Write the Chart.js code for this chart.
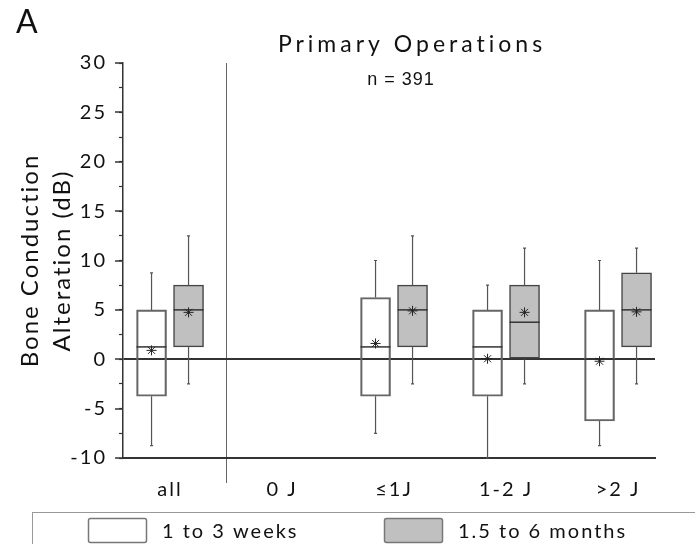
<!DOCTYPE html>
<html>
<head>
<meta charset="utf-8">
<script src="https://cdn.jsdelivr.net/npm/chart.js@4.4.0/dist/chart.umd.min.js"></script>
<style>
  html, body { margin: 0; padding: 0; background: #fff; overflow: hidden; }
  #wrap { width: 695px; height: 544px; position: relative; }
</style>
</head>
<body>
<div id="wrap"><canvas id="boneChart"></canvas></div>
<script>
const categories = ['all', '0 J', '≤1J', '1-2 J', '>2 J'];
const seriesLabels = ['1 to 3 weeks', '1.5 to 6 months'];
const yTitleLines = ['Bone Conduction', 'Alteration (dB)'];
const separatorAt = 0.5; // line between "all" and the year groups

// 1 to 3 weeks (white boxes), null = no data for "0 J"
const weeksMin = [-8.75, null, -7.5, -10, -8.75];
const weeksQ1 = [-3.75, null, -3.75, -3.75, -6.25];
const weeksMedian = [1.25, null, 1.25, 1.25, 0];
const weeksQ3 = [5, null, 6.25, 5, 5];
const weeksMax = [8.75, null, 10, 7.5, 10];
const weeksMean = [0.9, null, 1.6, 0.05, -0.2];

// 1.5 to 6 months (grey boxes)
const monthsMin = [-2.5, null, -2.5, -2.5, -2.5];
const monthsQ1 = [1.25, null, 1.25, 0, 1.25];
const monthsMedian = [5, null, 5, 3.75, 5];
const monthsQ3 = [7.5, null, 7.5, 7.5, 8.75];
const monthsMax = [12.5, null, 12.5, 11.25, 11.25];
const monthsMean = [4.75, null, 4.9, 4.75, 4.8];

const FONT = 'Lato';

// floating bars q1..q3, skipping empty groups
function boxData(q1, q3) {
  const out = [];
  q1.forEach((v, i) => {
    if (v !== null) out.push({ x: i, y: [v, q3[i]] });
  });
  return out;
}

const boxPlotExtras = {
  id: 'boxPlotExtras',
  beforeUpdate(chart) { chart.ctx.letterSpacing = '2px'; },
  beforeLayout(chart) { chart.ctx.letterSpacing = '2px'; },
  beforeDraw(chart) { chart.ctx.letterSpacing = '2px'; },
  afterDatasetsDraw(chart) {
    const ctx = chart.ctx;
    const yScale = chart.scales.y;
    chart.data.datasets.forEach((ds, d) => {
      const meta = chart.getDatasetMeta(d);
      meta.data.forEach((bar, k) => {
        const i = ds.data[k].x;
        const cx = bar.x;
        const half = bar.width / 2;
        const yLow = yScale.getPixelForValue(ds.whiskerLow[i]);
        const yHigh = yScale.getPixelForValue(ds.whiskerHigh[i]);
        const yQ1 = yScale.getPixelForValue(ds.data[k].y[0]);
        const yQ3 = yScale.getPixelForValue(ds.data[k].y[1]);
        const yMed = yScale.getPixelForValue(ds.median[i]);
        const yMean = yScale.getPixelForValue(ds.mean[i]);
        ctx.save();
        // whiskers
        ctx.strokeStyle = '#555';
        ctx.lineWidth = 1.2;
        ctx.beginPath();
        ctx.moveTo(cx, yQ3); ctx.lineTo(cx, yHigh);
        ctx.moveTo(cx, yQ1); ctx.lineTo(cx, yLow);
        ctx.moveTo(cx - 1.5, yHigh); ctx.lineTo(cx + 1.5, yHigh);
        ctx.moveTo(cx - 1.5, yLow); ctx.lineTo(cx + 1.5, yLow);
        ctx.stroke();
        // median
        ctx.strokeStyle = '#333';
        ctx.lineWidth = 1.5;
        ctx.beginPath();
        ctx.moveTo(cx - half, yMed); ctx.lineTo(cx + half, yMed);
        ctx.stroke();
        // mean asterisk
        const r = 5;
        ctx.strokeStyle = '#222';
        ctx.lineWidth = 1;
        ctx.beginPath();
        ctx.moveTo(cx - r, yMean); ctx.lineTo(cx + r, yMean);
        ctx.moveTo(cx, yMean - r); ctx.lineTo(cx, yMean + r);
        ctx.moveTo(cx - r * 0.7, yMean - r * 0.7); ctx.lineTo(cx + r * 0.7, yMean + r * 0.7);
        ctx.moveTo(cx - r * 0.7, yMean + r * 0.7); ctx.lineTo(cx + r * 0.7, yMean - r * 0.7);
        ctx.stroke();
        ctx.restore();
      });
    });
  },
  afterDraw(chart) {
    const ctx = chart.ctx;
    ctx.save();
    ctx.fillStyle = '#111';
    ctx.textBaseline = 'alphabetic';

    ctx.letterSpacing = '0px';
    ctx.textAlign = 'left';
    ctx.font = '32px ' + FONT;
    ctx.fillText('A', 16, 33);

    ctx.letterSpacing = '4px';
    ctx.textAlign = 'center';
    ctx.font = '23px ' + FONT;
    ctx.fillText('Primary Operations', 412, 52);

    ctx.letterSpacing = '1px';
    ctx.font = '18px "Liberation Sans"';
    ctx.fillText('n = 391', 401, 85);

    // legend frame + items
    ctx.letterSpacing = '2px';
    ctx.strokeStyle = '#999';
    ctx.lineWidth = 1;
    ctx.strokeRect(32.5, 512.5, 700, 60);
    const swatchX = [88, 384];
    ctx.font = '20px ' + FONT;
    ctx.textAlign = 'left';
    ctx.textBaseline = 'middle';
    chart.data.datasets.forEach((ds, d) => {
      const x = swatchX[d];
      ctx.beginPath();
      ctx.roundRect(x + 0.5, 518.5, 58, 24, 2);
      ctx.fillStyle = '#fff';
      ctx.fill();
      ctx.fillStyle = ds.swatchColor;
      ctx.fill();
      ctx.strokeStyle = '#777';
      ctx.lineWidth = 1.5;
      ctx.stroke();
      ctx.fillStyle = '#111';
      ctx.fillText(ds.label, x + 74, 532);
    });
    ctx.restore();
  }
};

const ctx = document.getElementById('boneChart');
new Chart(ctx, {
  type: 'bar',
  data: {
    datasets: [
      {
        label: seriesLabels[0],
        data: boxData(weeksQ1, weeksQ3),
        whiskerLow: weeksMin, whiskerHigh: weeksMax, median: weeksMedian, mean: weeksMean,
        backgroundColor: 'rgba(255,255,255,0)',
        swatchColor: '#ffffff',
        borderColor: '#666',
        borderWidth: 1.5,
        borderSkipped: false,
        barThickness: 37,
        maxBarThickness: 30,
      },
      {
        label: seriesLabels[1],
        data: boxData(monthsQ1, monthsQ3),
        whiskerLow: monthsMin, whiskerHigh: monthsMax, median: monthsMedian, mean: monthsMean,
        backgroundColor: '#c0c0c0',
        swatchColor: '#c0c0c0',
        borderColor: '#444',
        borderWidth: 1.5,
        borderSkipped: false,
        barThickness: 37,
        maxBarThickness: 30,
      }
    ]
  },
  options: {
    responsive: true,
    maintainAspectRatio: false,
    devicePixelRatio: 1,
    animation: false,
    layout: { padding: { top: 63, right: 40, bottom: 46, left: 0 } },
    plugins: {
      legend: { display: false },
      title: { display: false },
      tooltip: { enabled: false }
    },
    scales: {
      x: {
        type: 'linear',
        bounds: 'data',
        offset: false,
        min: -0.42,
        max: 4.33,
        afterBuildTicks: (scale) => {
          scale.ticks = [0, separatorAt, 1, 2, 3, 4].map(v => ({ value: v }));
        },
        afterFit: (scale) => { scale.height = 40; },
        ticks: {
          autoSkip: false,
          maxRotation: 0,
          padding: -5,
          color: '#111',
          font: { family: FONT, size: 20 },
          callback: (v) => Number.isInteger(v) ? categories[v] : ''
        },
        grid: {
          offset: false,
          color: (c) => c.tick && c.tick.value === separatorAt ? '#666' : 'rgba(0,0,0,0)',
          tickColor: (c) => c.tick && c.tick.value === separatorAt ? '#666' : 'rgba(0,0,0,0)',
          lineWidth: 1,
          tickLength: 25
        },
        border: { color: '#333', width: 2 }
      },
      y: {
        min: -10,
        max: 30,
        weight: 1,
        afterFit: (scale) => { scale.width = 123; },
        ticks: { stepSize: 5, padding: 8, color: '#111', font: { family: FONT, size: 20 } },
        grid: {
          color: '#333',
          lineWidth: (c) => c.tick && c.tick.value === 0 ? 2 : 0,
          tickLength: 8,
          tickColor: '#333',
          tickWidth: 1.5
        },
        border: { color: '#333', width: 1.5 },
        title: {
          display: true,
          text: yTitleLines,
          color: '#111',
          font: { family: FONT, size: 24, lineHeight: 1.33 },
          padding: { top: 14, bottom: 0 }
        }
      },
      yMinor: {
        type: 'linear',
        axis: 'y',
        position: 'left',
        min: -10,
        max: 30,
        weight: 0,
        afterFit: (scale) => { scale.width = 0; },
        ticks: { stepSize: 2.5, display: false },
        grid: { drawOnChartArea: false, tickLength: 4, tickColor: '#333', tickWidth: 1.2 },
        border: { display: false }
      }
    }
  },
  plugins: [boxPlotExtras]
});
</script>
</body>
</html>
